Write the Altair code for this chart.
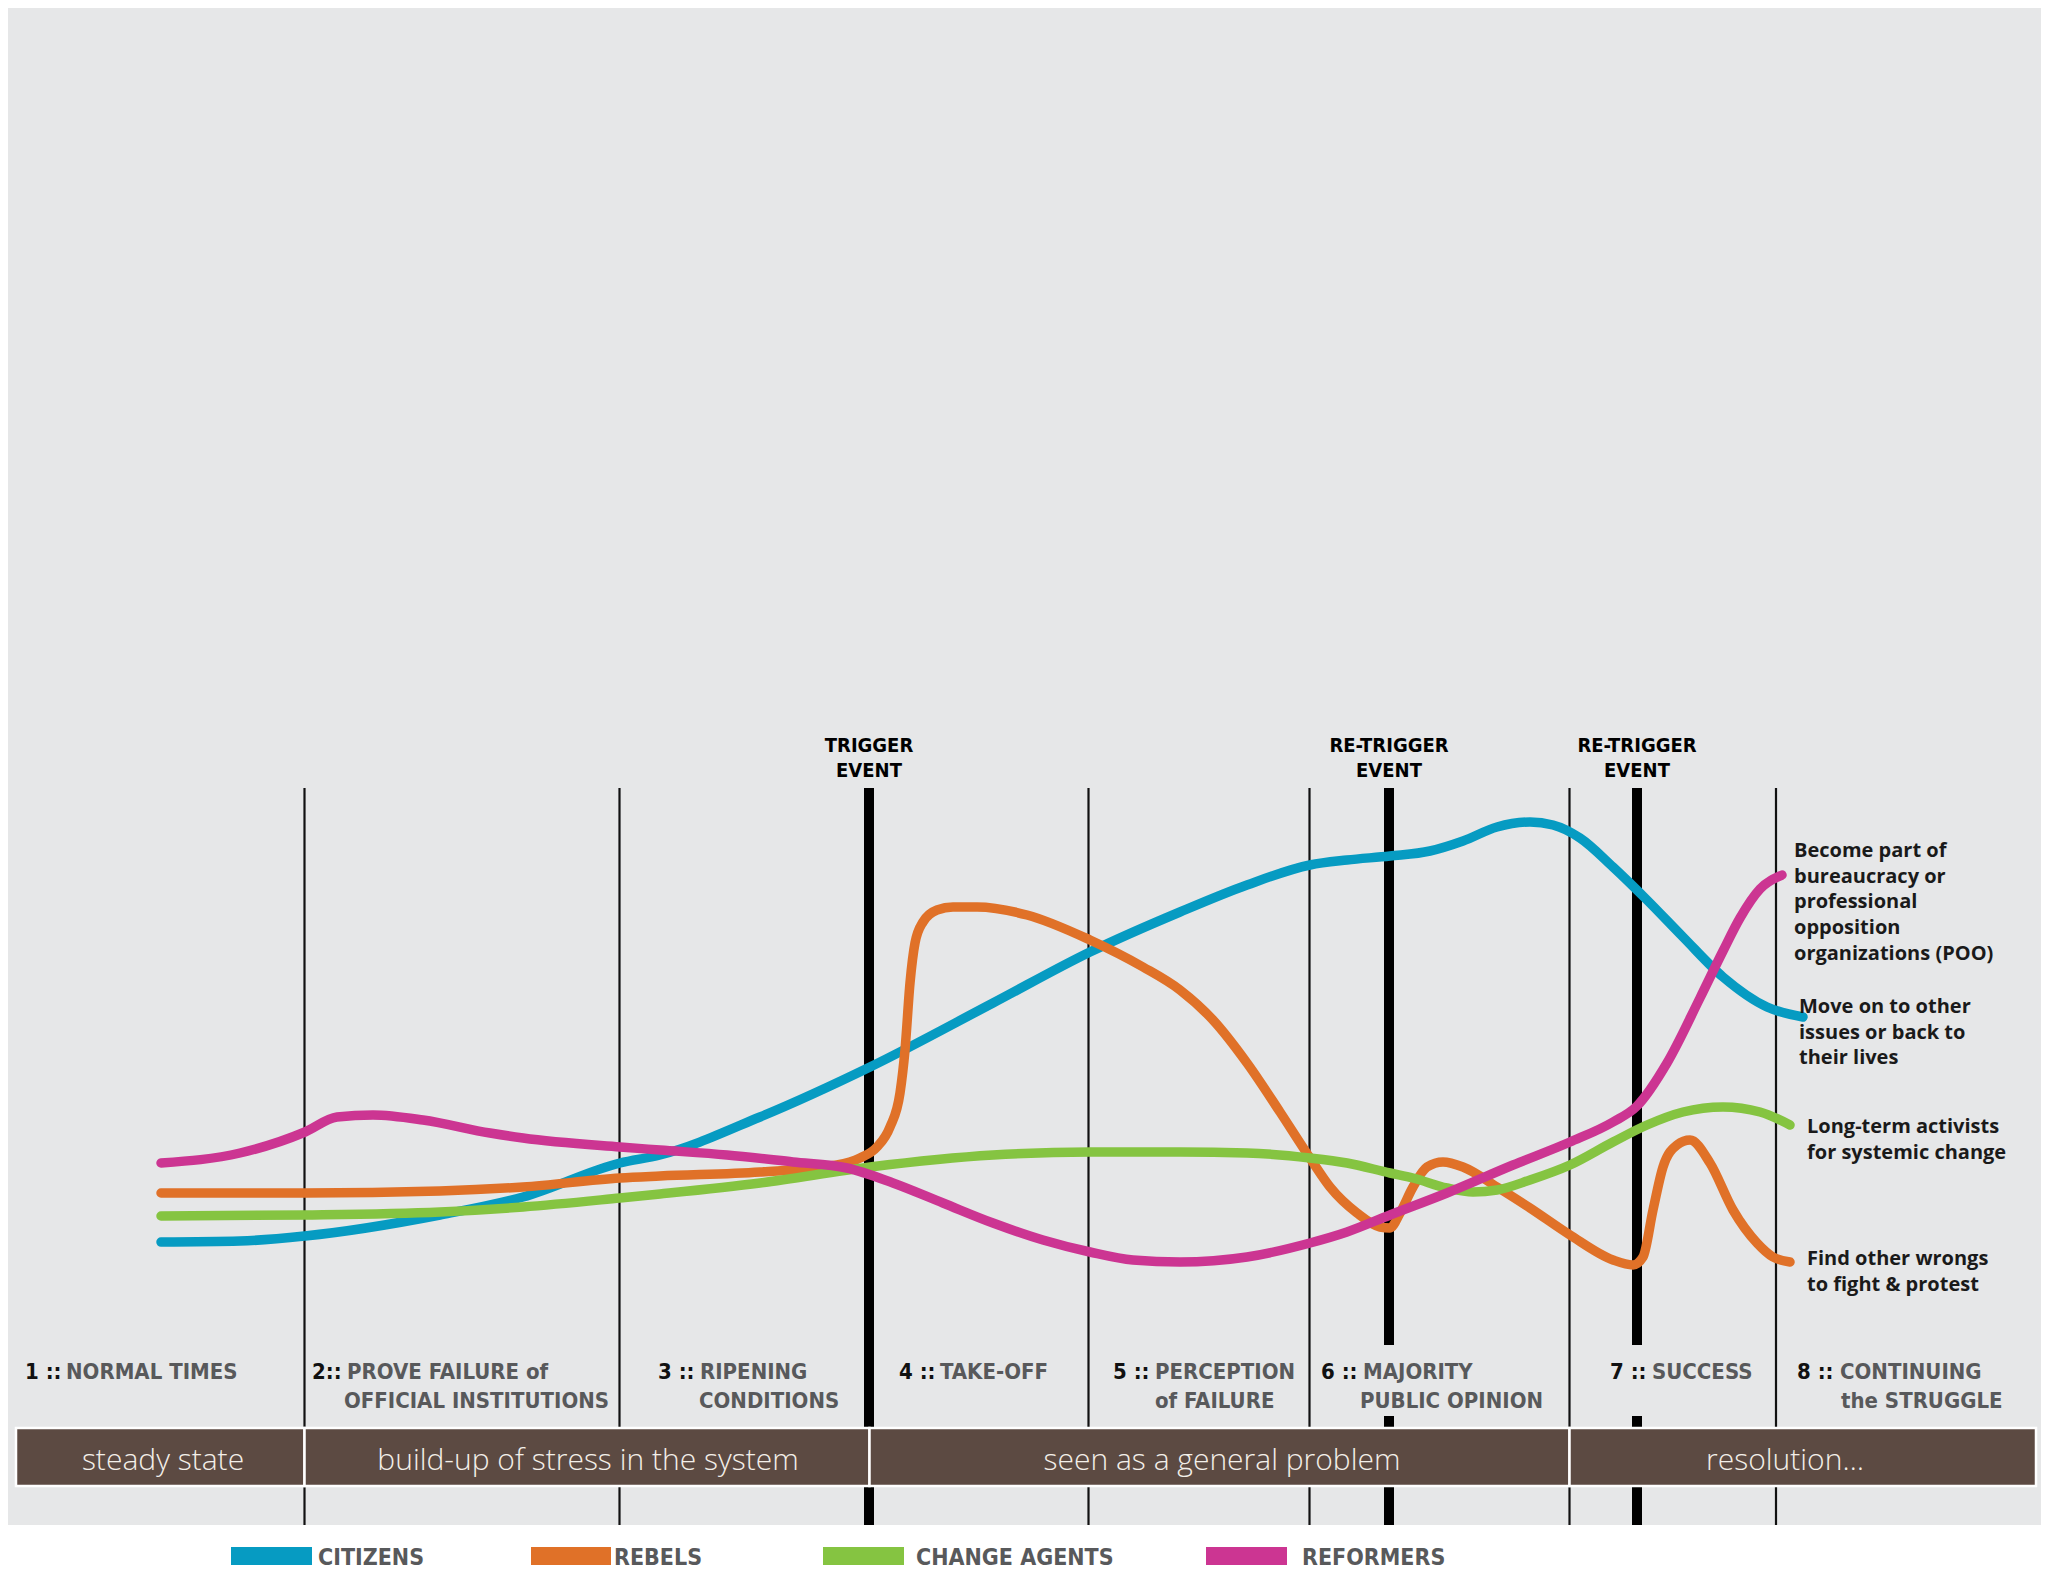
import altair as alt
import pandas as pd

# ---------------- data (time units / involvement level) ----------------
series_names = ["CITIZENS", "REBELS", "CHANGE AGENTS", "REFORMERS"]
series_colors = ["#069bc2", "#e07128", "#85c441", "#cc3592"]

citizens_t = [16.1, 24.0, 30.5, 44.0, 52.3, 62.0, 66.0, 76.0, 87.0, 99.3, 109.0, 118.0, 124.7,
              131.0, 134.7, 139.0, 143.0, 146.3, 149.7, 153.0, 155.3, 158.0, 161.3, 164.7,
              168.3, 172.3, 176.7, 180.3]
citizens_v = [28.3, 28.4, 28.9, 31.0, 32.8, 36.2, 37.0, 40.8, 45.8, 52.2, 57.3, 61.3, 64.0,
              66.0, 66.5, 66.9, 67.4, 68.4, 69.8, 70.3, 70.0, 68.7, 65.8, 62.5,
              58.8, 54.8, 51.8, 50.8]

rebels_t = [16.1, 30.5, 44.0, 52.3, 62.0, 66.0, 76.0, 83.7, 86.0, 87.7, 89.0, 90.0, 90.5, 91.0,
            91.5, 92.3, 93.7, 95.3, 97.7, 102.7, 109.0, 114.3, 118.0, 121.3, 124.7, 128.0,
            131.0, 133.0, 135.7, 138.0, 139.0, 140.0, 141.3, 142.7, 144.3, 146.3, 149.7,
            153.0, 157.0, 161.3, 163.3, 164.3, 165.3, 166.3, 167.7, 169.0, 171.0, 173.3,
            175.7, 177.3, 179.0]
rebels_v = [33.2, 33.2, 33.4, 33.8, 34.7, 34.9, 35.3, 36.0, 36.7, 37.8, 39.8, 43.2, 47.5, 54.2,
            58.2, 60.3, 61.5, 61.8, 61.8, 61.0, 58.5, 55.8, 53.5, 50.5, 46.2, 41.3,
            36.7, 33.8, 31.2, 29.8, 29.7, 31.2, 33.8, 35.8, 36.3, 35.8, 33.8,
            31.7, 29.0, 26.5, 26.0, 26.8, 31.5, 35.8, 38.0, 38.5, 36.2, 31.5,
            28.2, 26.8, 26.3]

agents_t = [16.1, 30.5, 44.0, 52.3, 62.0, 66.0, 76.0, 87.0, 99.3, 109.0, 118.0, 124.7, 131.0,
            134.7, 139.0, 141.3, 144.7, 147.3, 149.7, 153.0, 157.0, 161.3, 164.7, 168.3,
            172.3, 176.0, 179.0]
agents_v = [30.9, 31.0, 31.3, 31.8, 32.7, 33.1, 34.2, 35.8, 37.0, 37.3, 37.3, 37.2, 36.7,
            36.2, 35.2, 34.7, 33.7, 33.3, 33.5, 34.5, 36.0, 38.3, 40.0, 41.3,
            41.8, 41.3, 40.0]

reformers_t = [16.1, 24.0, 30.5, 33.7, 37.3, 42.3, 49.0, 52.3, 62.0, 66.0, 72.7, 79.3, 84.7,
               89.3, 94.3, 99.3, 104.3, 109.0, 113.3, 118.0, 124.7, 131.0, 134.7, 139.0,
               144.7, 151.3, 157.0, 161.3, 163.7, 166.7, 170.0, 172.3, 174.0, 176.0,
               178.2]
reformers_v = [36.2, 37.2, 39.3, 40.8, 41.0, 40.5, 39.2, 38.7, 37.8, 37.5, 37.0, 36.3, 35.7,
               34.2, 32.2, 30.2, 28.5, 27.3, 26.5, 26.3, 26.8, 28.2, 29.3, 31.0,
               33.2, 36.0, 38.3, 40.3, 41.9, 46.2, 52.7, 57.4, 60.7, 63.6,
               65.0]

# stage boundaries and events
stage_bounds = [30.45, 61.95, 108.85, 130.95, 156.95, 177.6]
event_x = [86.9, 138.9, 163.7]
event_line1 = ["TRIGGER", "RE-TRIGGER", "RE-TRIGGER"]
event_line2 = ["EVENT", "EVENT", "EVENT"]

# stage labels: black number prefix + grey title
stage_prefix = ["1 ::", "2::", "3 ::", "4 ::", "5 ::", "6 ::", "7 ::", "8 ::"]
stage_prefix_x = [2.5, 31.2, 65.8, 89.9, 111.3, 132.1, 161.0, 179.7]
stage_title = ["NORMAL TIMES", "PROVE FAILURE of", "RIPENING", "TAKE-OFF",
               "PERCEPTION", "MAJORITY", "SUCCESS", "CONTINUING"]
stage_title_x = [6.6, 34.7, 70.0, 94.0, 115.5, 136.3, 165.2, 184.0]
stage_line2 = ["OFFICIAL INSTITUTIONS", "CONDITIONS", "of FAILURE", "PUBLIC OPINION", "the STRUGGLE"]
stage_line2_x = [34.4, 69.9, 115.5, 136.0, 184.1]

# phase band
phase_names = ["steady state", "build-up of stress in the system", "seen as a general problem", "resolution…"]
phase_start = [1.6, 30.45, 86.95, 156.95]
phase_end = [30.45, 86.95, 156.95, 203.6]
phase_text_x = [16.3, 58.8, 122.2, 178.5]

# outcome annotations
outcome_lines = [
    ["Become part of", "bureaucracy or", "professional", "opposition", "organizations (POO)"],
    ["Move on to other", "issues or back to", "their lives"],
    ["Long-term activists", "for systemic change"],
    ["Find other wrongs", "to fight & protest"],
]
outcome_x = [179.4, 179.9, 180.7, 180.7]
outcome_top = [66.8, 51.2, 39.2, 26.0]

# legend
legend_x0 = [23.1, 53.1, 82.3, 120.6]
legend_x1 = [31.2, 61.1, 90.4, 128.7]
legend_tx = [31.8, 61.4, 91.6, 130.2]

# ---------------- tables ----------------
curve_rows = []
for name, ts, vs in zip(series_names, [citizens_t, rebels_t, agents_t, reformers_t],
                        [citizens_v, rebels_v, agents_v, reformers_v]):
    for i, (t, v) in enumerate(zip(ts, vs)):
        curve_rows.append({"series": name, "t": t, "v": v, "i": i})
curves = pd.DataFrame(curve_rows)

LINE_TOP = 73.7
BAND_TOP = 9.7
BAND_BOT = 3.9
LABEL_GAP_TOP = 18.0
LABEL_GAP_BOT = 10.9

thin_rows = []
for x in stage_bounds:
    thin_rows.append({"x": x, "y1": LINE_TOP, "y2": BAND_TOP})
    thin_rows.append({"x": x, "y1": BAND_BOT, "y2": 0})
thin = pd.DataFrame(thin_rows)

thick_rows = [
    {"x": event_x[0], "y1": LINE_TOP, "y2": BAND_TOP},
    {"x": event_x[0], "y1": BAND_BOT, "y2": 0},
]
for x in event_x[1:]:
    thick_rows += [
        {"x": x, "y1": LINE_TOP, "y2": LABEL_GAP_TOP},
        {"x": x, "y1": LABEL_GAP_BOT, "y2": BAND_TOP},
        {"x": x, "y1": BAND_BOT, "y2": 0},
    ]
thick = pd.DataFrame(thick_rows)

events = pd.DataFrame(
    [{"x": x, "y": 77.3, "text": a} for x, a in zip(event_x, event_line1)]
    + [{"x": x, "y": 74.8, "text": b} for x, b in zip(event_x, event_line2)]
)

prefix_df = pd.DataFrame({"x": stage_prefix_x, "y": 14.6, "text": stage_prefix})
title_df = pd.DataFrame(
    [{"x": x, "y": 14.6, "text": s} for x, s in zip(stage_title_x, stage_title)]
    + [{"x": x, "y": 11.7, "text": s} for x, s in zip(stage_line2_x, stage_line2)]
)

band = pd.DataFrame({"x0": phase_start, "x1": phase_end, "y0": BAND_TOP, "y1": BAND_BOT,
                     "tx": phase_text_x, "text": phase_names, "ty": 5.5})

ann_rows = []
for lines, x, top in zip(outcome_lines, outcome_x, outcome_top):
    for k, s in enumerate(lines):
        ann_rows.append({"x": x, "y": top - 2.57 * k, "text": s})
ann = pd.DataFrame(ann_rows)

legend = pd.DataFrame({"series": series_names, "x0": legend_x0, "x1": legend_x1,
                       "tx": legend_tx, "y0": -2.2, "y1": -4.0})

bg_df = pd.DataFrame({"y0": [0.0], "y1": [151.7]})

# ---------------- chart ----------------
xs = alt.Scale(domain=[0.8, 204.1], nice=False, zero=False)
ys = alt.Scale(domain=[-5, 151.7], nice=False, zero=False)
cs = alt.Scale(domain=series_names, range=series_colors)

COND = "DejaVu Sans Condensed, Liberation Sans Narrow, sans-serif"

bg = alt.Chart(bg_df).mark_rect(color="#e6e7e8").encode(
    x=alt.value(0), x2=alt.value("width"), y=alt.Y("y0:Q", scale=ys, axis=None), y2="y1:Q"
)

thin_layer = alt.Chart(thin).mark_rule(color="#111111", strokeWidth=2.2).encode(
    x=alt.X("x:Q", scale=xs, axis=None), y=alt.Y("y1:Q", scale=ys, axis=None), y2="y2:Q"
)
thick_layer = alt.Chart(thick).mark_rule(color="#000000", strokeWidth=10).encode(
    x=alt.X("x:Q", scale=xs), y=alt.Y("y1:Q", scale=ys), y2="y2:Q"
)

curve_layers = []
for name in series_names:
    curve_layers.append(
        alt.Chart(curves).transform_filter(alt.datum.series == name)
        .mark_line(strokeWidth=9.5, strokeCap="round", strokeJoin="round", interpolate="monotone")
        .encode(x=alt.X("t:Q", scale=xs), y=alt.Y("v:Q", scale=ys),
                color=alt.Color("series:N", scale=cs, legend=None), order="i:Q")
    )

event_text = alt.Chart(events).mark_text(font=COND, fontWeight="bold", fontSize=20,
                                         color="#000000", align="center", baseline="alphabetic").encode(
    x=alt.X("x:Q", scale=xs), y=alt.Y("y:Q", scale=ys), text="text:N"
)

prefix_text = alt.Chart(prefix_df).mark_text(font=COND, fontWeight="bold", fontSize=22,
                                             color="#111111", align="left", baseline="alphabetic").encode(
    x=alt.X("x:Q", scale=xs), y=alt.Y("y:Q", scale=ys), text="text:N"
)
title_text = alt.Chart(title_df).mark_text(font=COND, fontWeight="bold", fontSize=22,
                                           color="#58595b", align="left", baseline="alphabetic").encode(
    x=alt.X("x:Q", scale=xs), y=alt.Y("y:Q", scale=ys), text="text:N"
)

band_rect = alt.Chart(band).mark_rect(color="#5c4a42", stroke="#ffffff", strokeWidth=2.5).encode(
    x=alt.X("x0:Q", scale=xs), x2="x1:Q", y=alt.Y("y0:Q", scale=ys), y2="y1:Q"
)
band_text = alt.Chart(band).mark_text(font="Open Sans", fontWeight=300, fontSize=30,
                                      color="#f3efe9", align="center", baseline="alphabetic").encode(
    x=alt.X("tx:Q", scale=xs), y=alt.Y("ty:Q", scale=ys), text="text:N"
)

ann_text = alt.Chart(ann).mark_text(font="Open Sans", fontWeight="bold", fontSize=20,
                                    color="#1a1a1a", align="left", baseline="alphabetic").encode(
    x=alt.X("x:Q", scale=xs), y=alt.Y("y:Q", scale=ys), text="text:N"
)

legend_rect = alt.Chart(legend).mark_rect().encode(
    x=alt.X("x0:Q", scale=xs), x2="x1:Q", y=alt.Y("y0:Q", scale=ys), y2="y1:Q",
    color=alt.Color("series:N", scale=cs, legend=None)
)
legend_text = alt.Chart(legend).mark_text(font=COND, fontWeight="bold", fontSize=23,
                                          color="#58595b", align="left", baseline="alphabetic").encode(
    x=alt.X("tx:Q", scale=xs), y=alt.Y("y1:Q", scale=ys), text="series:N"
)

chart = alt.layer(
    bg, thin_layer, thick_layer, band_rect, band_text,
    prefix_text, title_text, event_text,
    *curve_layers, ann_text, legend_rect, legend_text
).properties(
    width=2033, height=1567, autosize=alt.AutoSizeParams(type="none"), padding=0,
    background="#ffffff"
).configure_view(stroke=None)

chart.save("out.html", embed_options={"renderer": "svg", "actions": False})
